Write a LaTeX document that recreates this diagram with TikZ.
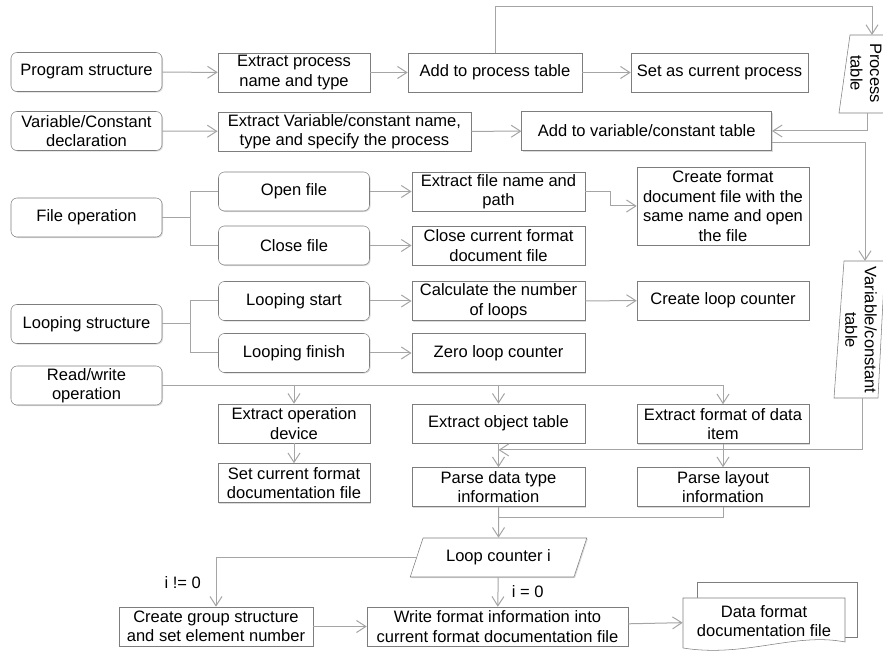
\documentclass[tikz,border=0pt]{standalone}
\usepackage{fontspec}
\setmainfont{Liberation Sans}
\usetikzlibrary{arrows.meta,shapes.geometric,shadows}
\definecolor{boxgray}{RGB}{125,125,125}
\definecolor{wiregray}{RGB}{165,165,165}
\begin{document}
\begin{tikzpicture}[x=0.75pt,y=0.75pt,font=\fontsize{12.4}{14.6}\selectfont]
\tikzstyle{every node}+=[inner sep=0pt]
\tikzstyle{box}=[draw=boxgray,fill=white,align=center,minimum height=29.25pt,drop shadow={shadow xshift=0.8pt,shadow yshift=-0.8pt,fill=black!40,opacity=0.35}]
\tikzstyle{rbox}=[box,rounded corners=4.5pt,minimum width=113.25pt]
\tikzstyle{wire}=[draw=wiregray,line width=0.75pt]
\tikzstyle{conn}=[wire,-{Straight Barb[length=7pt,width=9pt]}]
\useasboundingbox (0,0) rectangle (883,-652);
\node [rbox] (prog) at (86.5,-72) {Program structure};
\node [box,minimum width=114pt] (xproc) at (294,-72.5) {Extract process\\name and type};
\node [box,minimum width=130.5pt] (addproc) at (495,-72.5) {Add to process table};
\node [box,minimum width=132.75pt] (setproc) at (719.5,-72.5) {Set as current process};
\node [rbox] (vardecl) at (86.5,-131) {Variable/Constant\\declaration};
\node [box,minimum width=190pt] (xvar) at (344.5,-131.5) {Extract Variable/constant name,\\type and specify the process};
\node [box,minimum width=187.5pt] (addvar) at (646.7,-131) {Add to variable/constant table};
\node [rbox] (fileop) at (86.5,-217.5) {File operation};
\node [rbox] (openf) at (294,-191.5) {Open file};
\node [rbox] (closef) at (294,-245.5) {Close file};
\node [box,minimum width=130pt] (xfile) at (498.5,-191.5) {Extract file name and\\path};
\node [box,minimum width=130pt] (closecur) at (498.5,-245.5) {Close current format\\document file};
\node [box,minimum width=129pt,minimum height=58.5pt] (mkfile) at (723,-206) {Create format\\document file with the\\same name and open\\the file};
\node [rbox] (loopst) at (86.5,-324) {Looping structure};
\node [rbox] (loopstart) at (294,-301) {Looping start};
\node [rbox] (loopfin) at (294,-353) {Looping finish};
\node [box,minimum width=130pt] (calc) at (498.5,-301) {Calculate the number\\of loops};
\node [box,minimum width=130pt] (zero) at (498.5,-353) {Zero loop counter};
\node [box,minimum width=129pt] (mkloop) at (723,-300.5) {Create loop counter};
\node [rbox] (rw) at (86.5,-385.5) {Read/write\\operation};
\node [box,minimum width=114pt] (xdev) at (294,-423.5) {Extract operation\\device};
\node [box,minimum width=114pt] (setcur) at (294,-483) {Set current format\\documentation file};
\node [box,minimum width=130pt] (xobj) at (498.5,-423.5) {Extract object table};
\node [box,minimum width=129pt] (xfmt) at (723,-424) {Extract format of data\\item};
\node [box,minimum width=130pt] (parsedt) at (498.5,-487) {Parse data type\\information};
\node [box,minimum width=129pt] (parsely) at (723,-487) {Parse layout\\information};
\node [box,shape=trapezium,trapezium left angle=60,trapezium right angle=120,trapezium stretches=true,minimum width=133.5pt] (lc) at (498.5,-557.5) {Loop counter i};
\node [box,minimum width=145.5pt] (grp) at (216,-626.5) {Create group structure\\and set element number};
\node [box,minimum width=195.75pt] (write) at (497.5,-626.5) {Write format information into\\current format documentation file};
\draw [draw=boxgray,fill=white] (883,-35) -- (850,-35) -- (839,-113) -- (883,-113);
\node [rotate=-90,align=center] (ptab) at (866,-73) {Process\\table};
\coordinate (ptabin) at (872,-35);
\coordinate (ptabout) at (867,-113);
\draw [draw=boxgray,fill=white] (844,-261) -- (885,-261) -- (878,-398) -- (834,-398) -- cycle;
\node [rotate=-90,align=center] (vtab) at (861,-330) {Variable/constant\\table};
\coordinate (vtabin) at (865,-261);
\coordinate (vtabout) at (862,-398);
\draw [draw=boxgray,fill=white] (697,-582) rectangle (857,-637);
\draw [draw=boxgray,fill=white] (683,-598) -- (845,-598) -- (845,-642) .. controls (795,-632) and (745,-658) .. (683,-648) -- cycle;
\node [minimum width=121.5pt,minimum height=36pt,align=center] (doc) at (764,-621) {Data format\\documentation file};
\draw [conn] (prog) -- (xproc);
\draw [conn] (xproc) -- (addproc);
\draw [conn] (addproc) -- (setproc);
\draw [conn] (addproc.north) -- ++(0,46) -| (ptabin);
\draw [conn] (ptabout) |- (addvar.east);
\draw [conn] (vardecl) -- (xvar);
\draw [conn] (xvar) -- (addvar);
\draw [conn] ([yshift=6pt]addvar.south east) -| (vtabin);
\draw [conn] (vtabout) |- ([yshift=-5pt]xobj.south);
\draw [wire] (fileop.east) -- ++(28,0);
\draw [wire] (openf.west) -- ++(-28,0) |- (closef.west);
\draw [conn] (openf) -- (xfile);
\draw [conn] (closef) -- (closecur);
\draw [conn] (xfile.east) -- ++(25,0) |- (mkfile.west);
\draw [wire] (loopst.east) -- ++(28,0);
\draw [wire] (loopstart.west) -- ++(-28,0) |- (loopfin.west);
\draw [conn] (loopstart) -- (calc);
\draw [conn] (loopfin) -- (zero);
\draw [conn] (calc) -- (mkloop);
\draw [conn] (rw.east) -| (xfmt.north);
\draw [conn] (rw.east -| xdev.north) -- (xdev);
\draw [conn] (rw.east -| xobj.north) -- (xobj);
\draw [conn] (xdev) -- (setcur);
\draw [conn] (xobj) -- (parsedt);
\draw [conn] (xfmt) -- (parsely);
\draw [wire] (parsely.south) |- ([yshift=-8pt]parsedt.south);
\draw [conn] (parsedt) -- (lc);
\draw [conn] (lc.west) -| (grp.north) node [pos=0.75,left=11pt] {i != 0};
\draw [conn] (lc) -- (write) node [midway,right=10pt] {i = 0};
\draw [conn] (grp) -- (write);
\draw [conn] (write) -- (doc);
\end{tikzpicture}
\end{document}
